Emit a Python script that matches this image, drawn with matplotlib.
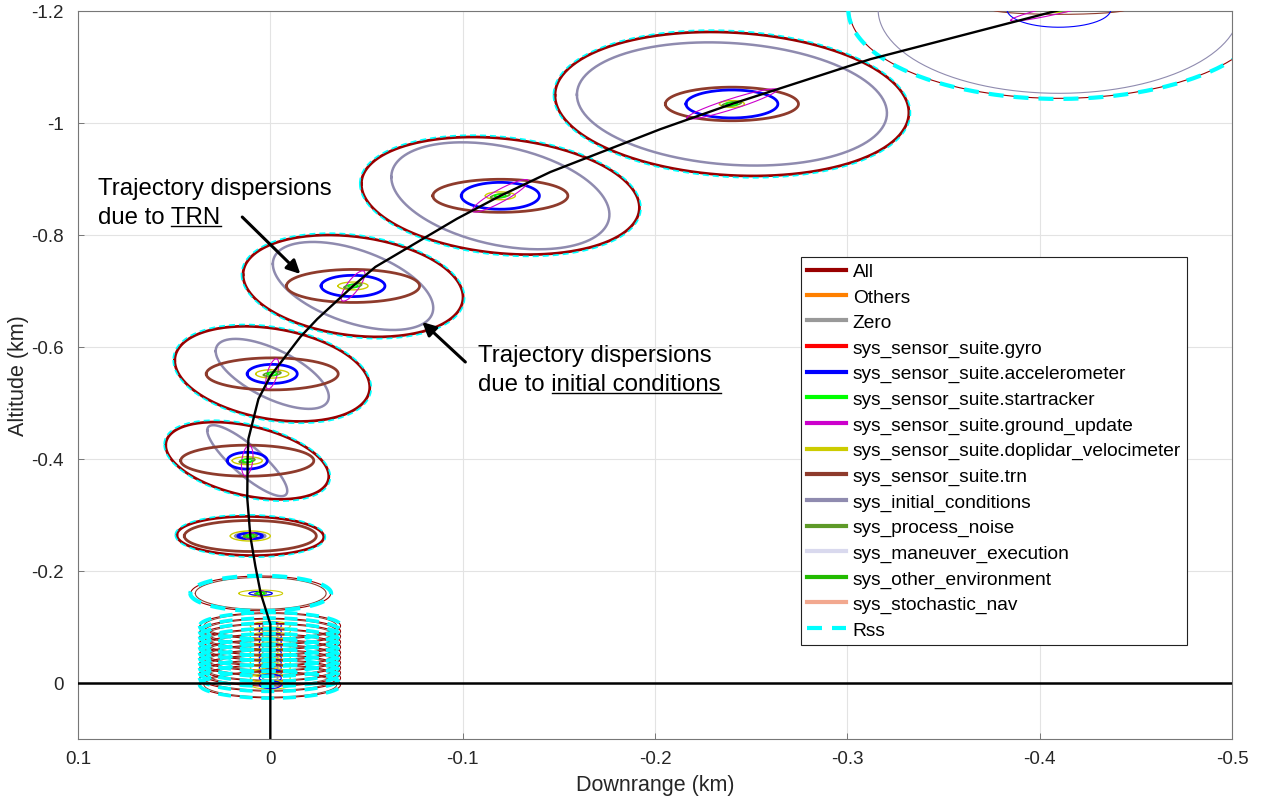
import numpy as np
import matplotlib
matplotlib.use("Agg")
import matplotlib.pyplot as plt
from matplotlib.lines import Line2D

plt.rcParams['font.family'] = ['Liberation Sans', 'DejaVu Sans']

# nominal trajectory (km): downrange, altitude (negative = up)
traj_x = [0.0, 0.0, 0.0, 0.0050, 0.0078, 0.0104, 0.0120, 0.0118, 0.0114, 0.0062, 0.0,
          -0.0156, -0.0244, -0.0430, -0.0546, -0.0970, -0.1196, -0.1456, -0.2028,
          -0.2400, -0.3120, -0.4124]
traj_y = [0.1, 0.0, -0.105, -0.160, -0.209, -0.2625, -0.330, -0.400, -0.436, -0.507,
          -0.548, -0.618, -0.650, -0.709, -0.743, -0.829, -0.870, -0.9125, -0.989,
          -1.034, -1.114, -1.2036]

# centres of the dispersion ellipses
lvl_x = [0.0050, 0.0104, 0.0120, -0.0010, -0.0430, -0.1196, -0.2400, -0.4100]
lvl_y = [-0.160, -0.2625, -0.397, -0.552, -0.709, -0.870, -1.034, -1.203]
lvl_bold = [False, True, True, True, True, True, True, False]

# ellipse per source and centre: (half width x, half height y, correlation)
all_ell = [(0.0364, 0.0310, 0.0), (0.0382, 0.0350, -0.05), (0.0424, 0.0690, -0.40),
           (0.0507, 0.0850, -0.28), (0.0572, 0.0910, -0.22), (0.0723, 0.1050, -0.20),
           (0.0920, 0.1286, -0.12), (0.1090, 0.1590, 0.0)]
rss_ell = [(0.0366, 0.0315, 0.0), (0.0390, 0.0378, -0.05), (0.0432, 0.0722, -0.40),
           (0.0515, 0.0882, -0.28), (0.0580, 0.0942, -0.22), (0.0731, 0.1082, -0.20),
           (0.0928, 0.1318, -0.12), (0.1095, 0.1600, 0.0)]
trn_ell = [(0.0340, 0.0285, 0.0), (0.0343, 0.0277, 0.0), (0.0346, 0.0277, 0.0),
           (0.0343, 0.0286, 0.0), (0.0346, 0.0295, 0.0), (0.0351, 0.0295, 0.0),
           (0.0346, 0.0300, 0.0), (0.0350, 0.0090, 0.0)]
ic_ell = [(0.0060, 0.0040, 0.0), (0.0078, 0.0050, 0.0), (0.0208, 0.0634, -0.85),
          (0.0294, 0.0625, -0.65), (0.0417, 0.0786, -0.50), (0.0567, 0.0955, -0.35),
          (0.0806, 0.1100, -0.15), (0.0940, 0.1500, 0.0)]
acc_ell = [(0.0060, 0.0035, 0.0), (0.0063, 0.0050, 0.0), (0.0104, 0.0150, 0.0),
           (0.0130, 0.0170, 0.0), (0.0166, 0.0190, 0.0), (0.0203, 0.0240, 0.0),
           (0.0239, 0.0250, 0.0), (0.0270, 0.0320, 0.0)]
dop_ell = [(0.0114, 0.0060, 0.0), (0.0104, 0.0090, 0.0), (0.0078, 0.0070, 0.0),
           (0.0086, 0.0075, 0.0), (0.0078, 0.0070, 0.0), (0.0078, 0.0070, 0.0),
           (0.0065, 0.0060, 0.0), (0.0060, 0.0060, 0.0)]
gnd_ell = [(0.0020, 0.0050, 0.3), (0.0025, 0.0060, 0.3), (0.0030, 0.0270, 0.30),
           (0.0034, 0.0270, 0.60), (0.0062, 0.0270, 0.80), (0.0146, 0.0290, 0.90),
           (0.0234, 0.0270, 0.93), (0.0250, 0.0210, 0.93)]
proc_ell = [(0.0030, 0.0030, 0.3), (0.0035, 0.0030, 0.3), (0.0040, 0.0040, 0.5),
            (0.0045, 0.0040, 0.5), (0.0045, 0.0040, 0.6), (0.0050, 0.0045, 0.6),
            (0.0050, 0.0045, 0.6), (0.0050, 0.0045, 0.6)]
star_ell = [(0.0020, 0.0020, 0.0), (0.0020, 0.0020, 0.0), (0.0025, 0.0025, 0.0),
            (0.0025, 0.0025, 0.0), (0.0025, 0.0025, 0.0), (0.0030, 0.0025, 0.0),
            (0.0030, 0.0025, 0.0), (0.0030, 0.0025, 0.0)]

# densely spaced ellipses near touchdown (x = 0)
stack_y = [-0.102, -0.092, -0.083, -0.073, -0.064, -0.054, -0.045, -0.036,
           -0.027, -0.018, -0.009, 0.003]
stack_all = (0.0365, 0.0235, 0.0)
stack_rss = (0.0368, 0.0240, 0.0)
stack_trn = (0.0345, 0.0220, 0.0)
stack_dop = (0.0104, 0.0080, 0.0)
stack_acc = (0.0057, 0.0070, 0.0)
stack_ic = (0.0040, 0.0040, 0.0)

legend_labels = ['All', 'Others', 'Zero', 'sys_sensor_suite.gyro',
                 'sys_sensor_suite.accelerometer', 'sys_sensor_suite.startracker',
                 'sys_sensor_suite.ground_update', 'sys_sensor_suite.doplidar_velocimeter',
                 'sys_sensor_suite.trn', 'sys_initial_conditions', 'sys_process_noise',
                 'sys_maneuver_execution', 'sys_other_environment', 'sys_stochastic_nav', 'Rss']
legend_colors = ['#990000', '#FF8000', '#999999', '#FF0000', '#0000FF', '#00FF00',
                 '#CC00CC', '#CCCC00', '#8E3B2C', '#8F8BAF', '#5E9A28', '#D9D9EE',
                 '#22BB00', '#F2A88F', '#00FFFF']

xticks = [0.1, 0, -0.1, -0.2, -0.3, -0.4, -0.5]
xtick_labels = ['0.1', '0', '-0.1', '-0.2', '-0.3', '-0.4', '-0.5']
yticks = [-1.2, -1, -0.8, -0.6, -0.4, -0.2, 0]
ytick_labels = ['-1.2', '-1', '-0.8', '-0.6', '-0.4', '-0.2', '0']

col = dict(zip(legend_labels, legend_colors))
DASH = (0, (3.6, 2.4))


def ellipse(cx, cy, e, n=240):
    sx, sy, rho = e
    t = np.linspace(0, 2 * np.pi, n)
    x = cx + sx * np.cos(t)
    y = cy + sy * (rho * np.cos(t) + np.sqrt(1 - rho ** 2) * np.sin(t))
    return x, y


fig = plt.figure(figsize=(12.62, 8.03), dpi=100)
ax = fig.add_axes([78 / 1262, 63 / 803, 1154 / 1262, 728 / 803])


def draw(cx, cy, e, color, lw, z, ls='-'):
    x, y = ellipse(cx, cy, e)
    ax.plot(x, y, color=color, lw=lw, ls=ls, zorder=z)


# near-ground stack
for cy in stack_y:
    draw(0, cy, stack_all, col['All'], 0.8, 3)
    draw(0, cy, stack_trn, col['sys_sensor_suite.trn'], 0.7, 3)
    draw(0, cy, stack_ic, col['sys_initial_conditions'], 0.8, 3)
    draw(0, cy, stack_dop, col['sys_sensor_suite.doplidar_velocimeter'], 0.8, 3)
    draw(0, cy, stack_acc, col['sys_sensor_suite.accelerometer'], 0.8, 3)
    draw(0, cy, stack_rss, col['Rss'], 2.6, 3.5, DASH)

for i, (cx, cy) in enumerate(zip(lvl_x, lvl_y)):
    b = lvl_bold[i]
    big = 2.0 if b else 0.8
    draw(cx, cy, all_ell[i], col['All'], big, 3)
    draw(cx, cy, ic_ell[i], col['sys_initial_conditions'], 1.8 if b else 0.8, 3)
    draw(cx, cy, trn_ell[i], col['sys_sensor_suite.trn'], big, 3)
    draw(cx, cy, acc_ell[i], col['sys_sensor_suite.accelerometer'], big, 3)
    draw(cx, cy, dop_ell[i], col['sys_sensor_suite.doplidar_velocimeter'], 1.0 if b else 0.8, 3)
    draw(cx, cy, gnd_ell[i], col['sys_sensor_suite.ground_update'], 0.8, 3)
    draw(cx, cy, proc_ell[i], col['sys_process_noise'], 1.2 if b else 0.8, 3)
    draw(cx, cy, star_ell[i], col['sys_sensor_suite.startracker'], 1.0, 3)
    draw(cx, cy, rss_ell[i], col['Rss'], 1.2 if b else 3.0, 3.5, DASH)

ax.plot(traj_x, traj_y, color='black', lw=1.7, zorder=5)
ax.axhline(0, color='black', lw=1.8, zorder=5)

ax.set_xlim(0.1, -0.5)
ax.set_ylim(0.1, -1.2)
ax.set_xticks(xticks)
ax.set_xticklabels(xtick_labels)
ax.set_yticks(yticks)
ax.set_yticklabels(ytick_labels)
ax.grid(True, color='#e3e3e3', lw=0.8, zorder=0)
ax.set_axisbelow(True)
ax.tick_params(direction='in', length=4, width=0.6, color='#666666',
               labelsize=13.5, labelcolor='#262626', pad=8)
ax.tick_params(axis='y', pad=10)
for s in ax.spines.values():
    s.set_color('#777777')
    s.set_linewidth(0.8)
ax.set_xlabel('Downrange (km)', fontsize=15.5, color='#262626', labelpad=5)
ax.set_ylabel('Altitude (km)', fontsize=15.5, color='#262626', labelpad=1.5)

handles = []
for lab, c in zip(legend_labels, legend_colors):
    handles.append(Line2D([], [], color=c, lw=3, ls=DASH if lab == 'Rss' else '-'))
leg = ax.legend(handles, legend_labels, loc='upper left', bbox_to_anchor=(0.6265, 0.662),
                borderaxespad=0, fontsize=13.8, handlelength=2.05, handletextpad=0.35,
                labelspacing=0.42, borderpad=0.3, fancybox=False, framealpha=1,
                edgecolor='#222222')
leg.get_frame().set_linewidth(0.8)
leg.set_zorder(10)

# annotations
AF = 17.3
ax.text(0.0894, -0.8732, 'Trajectory dispersions', fontsize=AF, va='baseline', ha='left')
t_trn = ax.text(0.0894, -0.8214, 'due to TRN', fontsize=AF, va='baseline', ha='left')
ax.text(-0.1082, -0.575, 'Trajectory dispersions', fontsize=AF, va='baseline', ha='left')
t_ic = ax.text(-0.1082, -0.5232, 'due to initial conditions', fontsize=AF, va='baseline', ha='left')

arrow = dict(arrowstyle='-|>', lw=2.2, color='black', mutation_scale=20, shrinkA=0, shrinkB=0)
ax.annotate('', xy=(-0.0156, -0.7304), xytext=(0.0146, -0.8321), arrowprops=arrow, zorder=6)
ax.annotate('', xy=(-0.0790, -0.6446), xytext=(-0.1014, -0.5732), arrowprops=arrow, zorder=6)

renderer = fig.canvas.get_renderer()


def underline(full, word, xd, yd):
    bb = full.get_window_extent(renderer)
    tmp = ax.text(0, 0, word, fontsize=AF)
    w = tmp.get_window_extent(renderer).width
    tmp.remove()
    y = ax.transData.transform((xd, yd))[1] - 3
    p0 = fig.transFigure.inverted().transform((bb.x1 - w, y))
    p1 = fig.transFigure.inverted().transform((bb.x1, y))
    fig.add_artist(Line2D([p0[0], p1[0]], [p0[1], p1[1]], color='black', lw=1.0))


underline(t_trn, 'TRN', 0.0894, -0.8214)
underline(t_ic, 'initial conditions', -0.1082, -0.5232)

fig.savefig('out.png', dpi=100)
